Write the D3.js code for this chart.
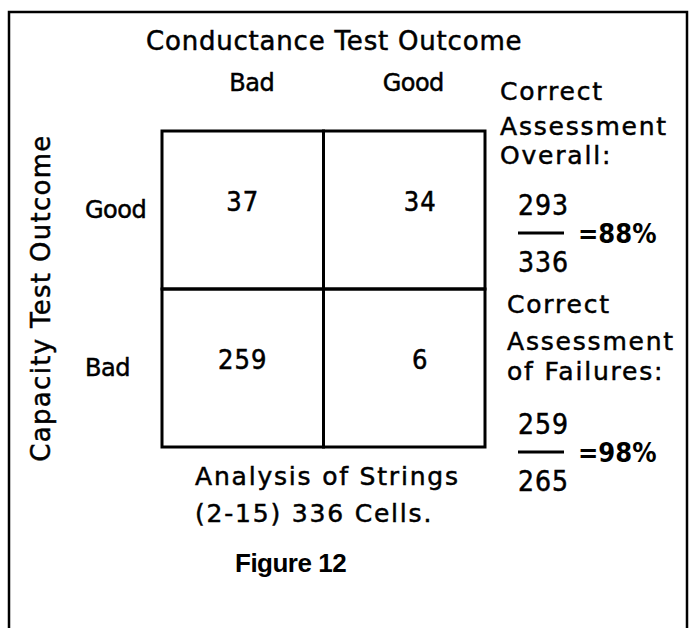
<!DOCTYPE html>
<html>
<head>
<meta charset="utf-8">
<script src="https://cdn.jsdelivr.net/npm/d3@7"></script>
<style>
  body { margin: 0; background: #fff; }
  svg text { fill: #000; stroke: #000; stroke-width: 0.5px; font-family: "DejaVu Sans", Verdana, sans-serif; }
</style>
</head>
<body>
<div id="chart"></div>
<script>
// conductance test outcome (columns) vs capacity test outcome (rows)
var colCats = ["Bad", "Good"];
var rowCats = ["Good", "Bad"];
var cellCounts = [
    {row: "Good", col: "Bad", n: 37},
    {row: "Good", col: "Good", n: 34},
    {row: "Bad", col: "Bad", n: 259},
    {row: "Bad", col: "Good", n: 6}
];
var overallLines = ["Correct", "Assessment", "Overall:"];
var overallFrac = ["293", "336", "=88%"];
var failLines = ["Correct", "Assessment", "of Failures:"];
var failFrac = ["259", "265", "=98%"];
var noteLines = ["Analysis of Strings", "(2-15) 336 Cells."];

var width = 691,
    height = 628;

var svg = d3.select("#chart").append("svg").attr("width", width).attr("height", height);

// outer frame, open at the bottom
svg.append("path")
    .attr("d", "M9," + height + "V12H687V" + height)
    .attr("fill", "none").attr("stroke", "#000").attr("stroke-width", 2.5);

var x = d3.scaleBand().domain(colCats).range([162, 485]);
var y = d3.scaleBand().domain(rowCats).range([131, 447]);

svg.append("g").selectAll("rect").data(cellCounts).enter().append("rect")
    .attr("x", function(d) { return x(d.col); })
    .attr("y", function(d) { return y(d.row); })
    .attr("width", x.bandwidth())
    .attr("height", y.bandwidth())
    .attr("fill", "none").attr("stroke", "#000").attr("stroke-width", 3);

svg.append("g").selectAll("text").data(cellCounts).enter().append("text")
    .attr("x", function(d) { return x(d.col) + x.bandwidth() / 2 + (d.col === "Good" ? 16 : 0); })
    .attr("y", function(d) { return y(d.row) + y.bandwidth() / 2 + 1; })
    .attr("text-anchor", "middle")
    .style("font-family", "'DejaVu Sans Condensed'")
    .style("font-size", "27px").style("letter-spacing", "1px")
    .text(function(d) { return d.n; });

// axis titles
svg.append("text").attr("x", 146).attr("y", 50)
    .style("font-size", "26px").style("letter-spacing", "0.8px")
    .text("Conductance Test Outcome");

svg.append("text")
    .attr("transform", "translate(50,298) rotate(-90)")
    .attr("text-anchor", "middle")
    .style("font-size", "26px").style("letter-spacing", "1.3px")
    .text("Capacity Test Outcome");

// column and row category labels
svg.append("g").selectAll("text").data(colCats).enter().append("text")
    .attr("x", function(d) { return x(d) + x.bandwidth() / 2 + 9; })
    .attr("y", 91)
    .attr("text-anchor", "middle")
    .style("font-size", "24px").style("letter-spacing", "-0.5px")
    .text(function(d) { return d; });

svg.append("g").selectAll("text").data(rowCats).enter().append("text")
    .attr("x", 85)
    .attr("y", function(d) { return y(d) + y.bandwidth() / 2 + 8; })
    .style("font-size", "24px").style("letter-spacing", "-0.5px")
    .text(function(d) { return d; });

// right-hand notes
function block(lines, left, baselines) {
    svg.append("g").selectAll("text").data(lines).enter().append("text")
        .attr("x", left)
        .attr("y", function(d, i) { return baselines[i]; })
        .style("font-size", "25px").style("letter-spacing", "1.8px")
        .text(function(d) { return d; });
}

function fraction(parts, left, top) {
    var g = svg.append("g").attr("transform", "translate(" + left + "," + top + ")");
    g.append("text").attr("x", 0).attr("y", 0)
        .style("font-family", "'DejaVu Sans Condensed'")
        .style("font-size", "28px").style("letter-spacing", "1px")
        .text(parts[0]);
    g.append("line").attr("x1", 0).attr("x2", 46).attr("y1", 18).attr("y2", 18)
        .attr("stroke", "#000").attr("stroke-width", 3);
    g.append("text").attr("x", 0).attr("y", 57)
        .style("font-family", "'DejaVu Sans Condensed'")
        .style("font-size", "28px").style("letter-spacing", "1px")
        .text(parts[1]);
    g.append("text").attr("x", 60).attr("y", 28)
        .style("font-family", "'DejaVu Sans Condensed'")
        .style("font-size", "27px").style("font-weight", "bold").style("stroke-width", "0")
        .text(parts[2]);
}

block(overallLines, 500, [100, 135, 164]);
fraction(overallFrac, 518, 215);
block(failLines, 507, [313, 350, 380]);
fraction(failFrac, 518, 434);

block(noteLines, 195, [485, 522]);

svg.append("text").attr("x", 235).attr("y", 572)
    .style("font-family", "'Liberation Sans', Arial, sans-serif")
    .style("font-size", "26px").style("font-weight", "bold").style("letter-spacing", "-0.5px")
    .style("stroke-width", "0")
    .text("Figure 12");
</script>
</body>
</html>
